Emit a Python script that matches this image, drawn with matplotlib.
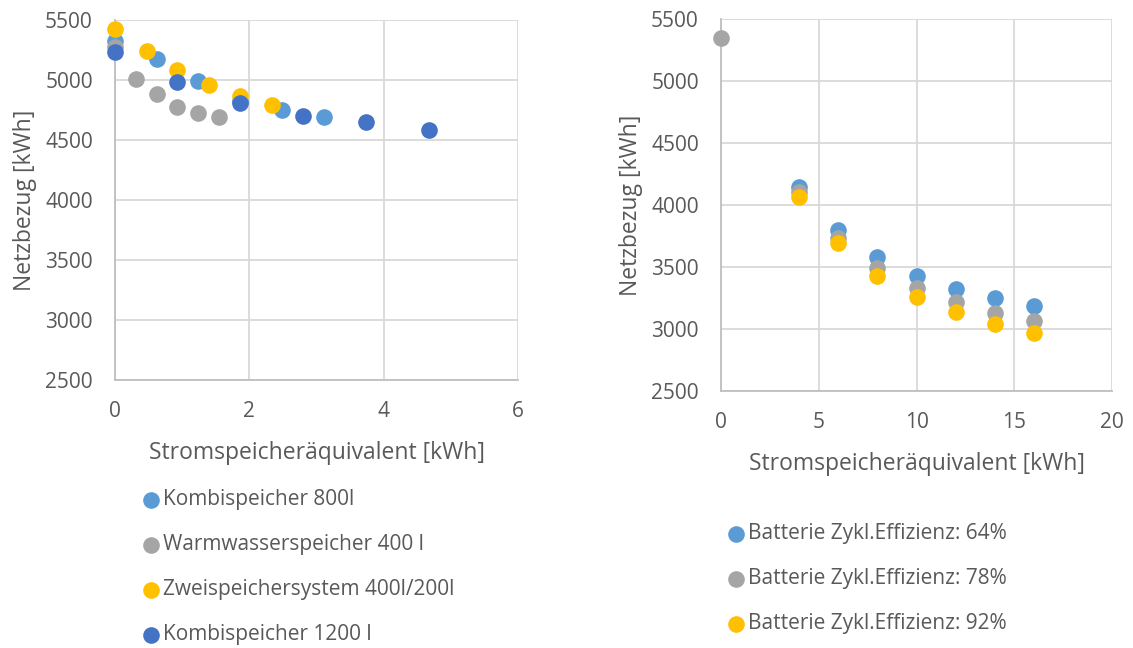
import matplotlib.pyplot as plt
from matplotlib import rcParams

rcParams['font.family'] = ['Open Sans', 'DejaVu Sans']

# Left chart: thermal storage, x = Stromspeicheräquivalent [kWh], y = Netzbezug [kWh]
kombi800_x = [0, 0.62, 1.24, 1.86, 2.49, 3.11]
kombi800_y = [5328, 5173, 4994, 4825, 4750, 4689]
ww400_x = [0, 0.31, 0.62, 0.93, 1.24, 1.55]
ww400_y = [5278, 5008, 4883, 4777, 4722, 4689]
zwei_x = [0, 0.47, 0.93, 1.40, 1.86, 2.33]
zwei_y = [5428, 5245, 5083, 4958, 4869, 4789]
kombi1200_x = [0, 0.93, 1.86, 2.80, 3.73, 4.67]
kombi1200_y = [5236, 4986, 4811, 4702, 4652, 4583]

left_labels = ["Kombispeicher 800l", "Warmwasserspeicher 400 l",
               "Zweispeichersystem 400l/200l", "Kombispeicher 1200 l"]

# Right chart: batteries
bat_x = [4, 6, 8, 10, 12, 14, 16]
bat64_y = [4142, 3799, 3577, 3430, 3323, 3248, 3189]
bat78_x = [0, 4, 6, 8, 10, 12, 14, 16]
bat78_y = [5350, 4107, 3733, 3492, 3331, 3219, 3130, 3063]
bat92_y = [4067, 3692, 3430, 3259, 3135, 3044, 2970]

right_labels = ["Batterie Zykl.Effizienz: 64%", "Batterie Zykl.Effizienz: 78%",
                "Batterie Zykl.Effizienz: 92%"]

c_lblue = '#5B9BD5'
c_gray = '#A5A5A5'
c_yellow = '#FFC000'
c_dblue = '#4472C4'
txt = '#595959'

fig = plt.figure(figsize=(11.33, 6.48), dpi=100)
ax1 = fig.add_axes([0.1015, 0.4136, 0.3557, 0.5556])
ax2 = fig.add_axes([0.6364, 0.3966, 0.3451, 0.5741])

ms = 120
ax1.scatter(kombi800_x, kombi800_y, s=ms, color=c_lblue, label=left_labels[0], zorder=3, clip_on=False)
ax1.scatter(ww400_x, ww400_y, s=ms, color=c_gray, label=left_labels[1], zorder=3, clip_on=False)
ax1.scatter(zwei_x, zwei_y, s=ms, color=c_yellow, label=left_labels[2], zorder=3, clip_on=False)
ax1.scatter(kombi1200_x, kombi1200_y, s=ms, color=c_dblue, label=left_labels[3], zorder=3, clip_on=False)

ax2.scatter(bat_x, bat64_y, s=ms, color=c_lblue, label=right_labels[0], zorder=3, clip_on=False)
ax2.scatter(bat78_x, bat78_y, s=ms, color=c_gray, label=right_labels[1], zorder=3, clip_on=False)
ax2.scatter(bat_x, bat92_y, s=ms, color=c_yellow, label=right_labels[2], zorder=3, clip_on=False)

for ax, xmax, xstep in [(ax1, 6, 2), (ax2, 20, 5)]:
    ax.set_xlim(0, xmax)
    ax.set_ylim(2500, 5500)
    ax.set_xticks(range(0, xmax + 1, xstep))
    ax.set_yticks(range(2500, 5501, 500))
    ax.grid(True, color='#D9D9D9', linewidth=1.3)
    ax.set_axisbelow(True)
    for s in ['top', 'right']:
        ax.spines[s].set_visible(False)
    for s in ['left', 'bottom']:
        ax.spines[s].set_color('#BFBFBF')
        ax.spines[s].set_linewidth(1.3)
    ax.tick_params(length=0, labelsize=15, labelcolor=txt)
    ax.tick_params(axis='x', pad=15)
    ax.tick_params(axis='y', pad=16)
    ax.set_xlabel("Stromspeicheräquivalent [kWh]", fontsize=16.5, color=txt, labelpad=14)
    ax.set_ylabel("Netzbezug [kWh]", fontsize=16.5, color=txt, labelpad=6)

leg_kw = dict(frameon=False, fontsize=15, labelcolor=txt, handletextpad=0.0,
              markerscale=1.0, borderaxespad=0, handlelength=1.2)
fig.legend(handles=ax1.collections, labels=left_labels, loc='upper left',
           bbox_to_anchor=(130 / 1133, 1 - 481 / 648), labelspacing=1.15, **leg_kw)
fig.legend(handles=ax2.collections, labels=right_labels, loc='upper left',
           bbox_to_anchor=(715 / 1133, 1 - 515 / 648), labelspacing=1.15, **leg_kw)

fig.savefig('out.png', dpi=100)
